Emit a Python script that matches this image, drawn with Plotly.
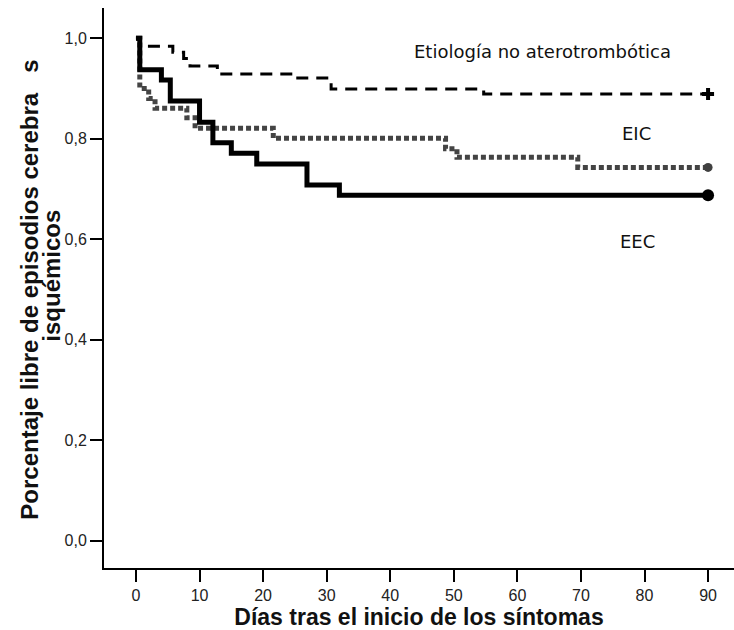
import plotly.graph_objects as go

# Kaplan-Meier style curves (days, proportion free of ischemic events)
eec_days = [0, 0.6, 4.0, 5.4, 10.0, 12.1, 15.0, 19.0, 26.9, 32.0, 90]
eec_surv = [1.0, 0.9375, 0.917, 0.875, 0.833, 0.792, 0.771, 0.750, 0.708, 0.6875, 0.6875]

eic_days = [0, 0.6, 2.0, 3.0, 8.0, 9.3, 21.6, 48.7, 50.5, 69.5, 90]
eic_surv = [1.0, 0.900, 0.880, 0.861, 0.842, 0.821, 0.801, 0.780, 0.763, 0.743, 0.743]

noat_days = [0, 0.6, 5.8, 7.5, 8.5, 12.8, 25.0, 30.7, 54.7, 90]
noat_surv = [1.0, 0.984, 0.972, 0.960, 0.945, 0.929, 0.921, 0.899, 0.889, 0.889]

x_ticks = [0, 10, 20, 30, 40, 50, 60, 70, 80, 90]
y_ticks = [0.0, 0.2, 0.4, 0.6, 0.8, 1.0]
y_tick_labels = ["0,0", "0,2", "0,4", "0,6", "0,8", "1,0"]

group_labels = ["Etiología no aterotrombótica", "EIC", "EEC"]
label_x = [63.9, 78.7, 78.9]
label_y = [0.973, 0.8105, 0.5955]

y_title_lines = ["Porcentaje libre de episodios cerebra\u00a0\u00a0\u00a0s", "isquémicos"]

fig = go.Figure()

fig.add_trace(go.Scatter(
    x=noat_days, y=noat_surv, mode="lines", line_shape="hv",
    line=dict(color="black", width=3, dash="12px,8px"), showlegend=False,
    hoverinfo="skip"))
fig.add_trace(go.Scatter(
    x=eic_days, y=eic_surv, mode="lines", line_shape="hv",
    line=dict(color="#444444", width=5, dash="5px,3px"), showlegend=False,
    hoverinfo="skip"))
fig.add_trace(go.Scatter(
    x=eec_days, y=eec_surv, mode="lines", line_shape="hv",
    line=dict(color="black", width=5), showlegend=False, hoverinfo="skip"))

# censoring markers at the end of follow-up
fig.add_trace(go.Scatter(
    x=[noat_days[-1]], y=[noat_surv[-1]], mode="markers",
    marker=dict(symbol="cross", size=10, color="black"), showlegend=False))
fig.add_trace(go.Scatter(
    x=[eic_days[-1]], y=[eic_surv[-1]], mode="markers",
    marker=dict(symbol="circle", size=9, color="#404040"), showlegend=False))
fig.add_trace(go.Scatter(
    x=[eec_days[-1]], y=[eec_surv[-1]], mode="markers",
    marker=dict(symbol="circle", size=12, color="black"), showlegend=False))

for txt, lx, ly in zip(group_labels, label_x, label_y):
    fig.add_annotation(x=lx, y=ly, text=txt, showarrow=False,
                       xanchor="center", yanchor="middle",
                       font=dict(family="DejaVu Sans", size=18, color="#111111"))

# y-axis title as two rotated lines
for line, xs, yc in zip(y_title_lines, [-74, -52], [0.497, 0.522]):
    fig.add_annotation(xref="paper", yref="paper", x=0, y=yc, xshift=xs,
                       text="<b>" + line + "</b>", showarrow=False, textangle=-90,
                       xanchor="center", yanchor="middle",
                       font=dict(family="Liberation Sans, Arial, sans-serif",
                                 size=24, color="#111111"))

fig.update_layout(
    width=734, height=630,
    margin=dict(l=104, r=0, t=8, b=62),
    paper_bgcolor="white", plot_bgcolor="white",
    font=dict(family="Liberation Sans, Arial, sans-serif", color="#222222"),
)

fig.update_xaxes(
    range=[-5.03, 94.08], tickvals=x_ticks, ticktext=[str(v) for v in x_ticks],
    showgrid=False, zeroline=False, showline=True, linecolor="black", linewidth=2,
    ticks="outside", ticklen=12, tickwidth=2, tickcolor="black",
    tickfont=dict(size=16, color="#222222"), automargin=False,
    title=dict(text="<b>Días tras el inicio de los síntomas</b>",
               font=dict(size=23, color="#111111"), standoff=2),
)
fig.update_yaxes(
    range=[-0.0543, 1.0603], tickvals=y_ticks, ticktext=y_tick_labels,
    showgrid=False, zeroline=False, showline=True, linecolor="black", linewidth=2,
    ticks="outside", ticklen=12, tickwidth=2, tickcolor="black",
    tickfont=dict(size=16, color="#222222"), automargin=False,
)

fig.write_html("out.html", config={"displayModeBar": False},
               post_script="document.body.style.margin='0';")
